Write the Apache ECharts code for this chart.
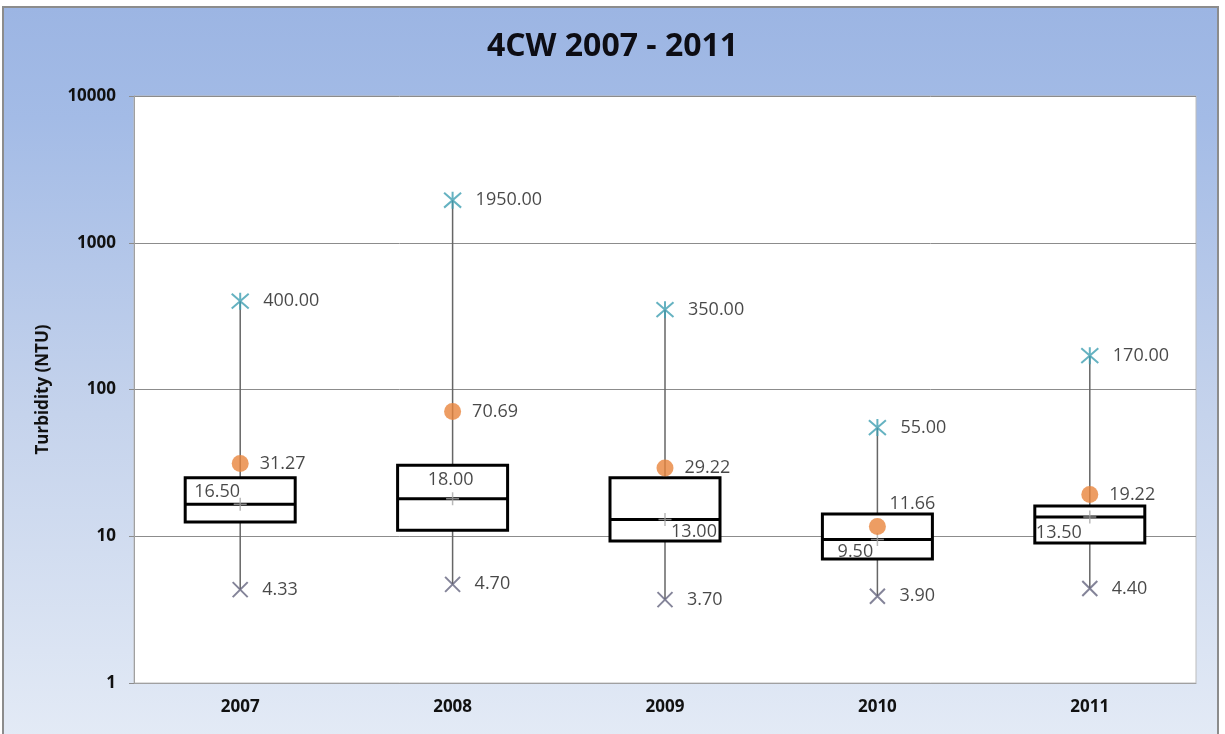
<!DOCTYPE html>
<html>
<head>
<meta charset="UTF-8">
<title>4CW 2007 - 2011</title>
<script src="https://cdn.jsdelivr.net/npm/echarts@6/dist/echarts.min.js"></script>
<style>
  html, body { margin: 0; padding: 0; background: #fff; }
  #main { width: 1225px; height: 734px; }
</style>
</head>
<body>
<div id="main"></div>
<script>
// values
var years = ['2007', '2008', '2009', '2010', '2011'];
var maxV = [400, 1950, 350, 55, 170];
var minV = [4.33, 4.70, 3.70, 3.90, 4.40];
var meanV = [31.27, 70.69, 29.22, 11.66, 19.22];
var medianV = [16.50, 18.00, 13.00, 9.50, 13.50];
var q1V = [12.5, 11.0, 9.3, 7.0, 9.0];
var q3V = [25, 30.5, 25, 14.2, 16.1];

// label placement (text centre relative to marker)
var medianLabelOffset = [[-23, -12], [-2, -19], [29, 12], [-22, 12], [-31, 16]];
var meanLabelOffset = [null, null, null, [35, -23], null];

var labelFont = { fontFamily: 'Open Sans', fontSize: 18, color: '#1a1a1a' };

var chart = echarts.init(document.getElementById('main'), null, { renderer: 'canvas' });

function fmt(p) { return p.value[1].toFixed(2); }

var option = {
  animation: false,
  backgroundColor: '#fff',
  graphic: [{
    type: 'rect',
    z: -10,
    silent: true,
    shape: { x: 3, y: 7, width: 1215, height: 740 },
    style: {
      fill: new echarts.graphic.LinearGradient(0, 0, 0, 1, [
        { offset: 0, color: '#9cb5e3' },
        { offset: 0.15, color: '#a3bbe6' },
        { offset: 0.55, color: '#c5d3ec' },
        { offset: 1, color: '#e4ebf6' }
      ]),
      stroke: '#8c8c8c',
      lineWidth: 2
    }
  }],
  title: {
    text: '4CW 2007 - 2011',
    left: 'center',
    top: 26,
    textStyle: { fontFamily: 'Open Sans', fontWeight: 'bold', fontSize: 32, color: '#0d0d14' }
  },
  grid: {
    left: 134, right: 29, top: 96, bottom: 51,
    show: true, backgroundColor: '#fff', borderColor: '#bdbdbd', borderWidth: 1
  },
  xAxis: {
    type: 'category',
    data: years,
    axisTick: { show: false },
    axisLine: { lineStyle: { color: '#a0a0a0' } },
    axisLabel: { fontFamily: 'Open Sans', fontWeight: 'bold', fontSize: 17, color: '#111', margin: 16 }
  },
  yAxis: {
    type: 'log',
    logBase: 10,
    min: 1,
    max: 10000,
    name: 'Turbidity (NTU)',
    nameLocation: 'middle',
    nameGap: 82,
    nameTextStyle: { fontFamily: 'Open Sans', fontWeight: 'bold', fontSize: 17, color: '#111' },
    axisLine: { show: true, lineStyle: { color: '#a0a0a0' } },
    axisTick: { show: true, length: 5, lineStyle: { color: '#8c8c8c' } },
    axisLabel: {
      fontFamily: 'Open Sans', fontWeight: 'bold', fontSize: 17, color: '#111', margin: 18,
      formatter: function (v) { return String(Math.round(v)); }
    },
    splitLine: { lineStyle: { color: '#8c8c8c', width: 1 } }
  },
  series: [
    {
      name: 'range',
      type: 'custom',
      z: 1,
      encode: { x: 0, y: [1, 2] },
      data: years.map(function (y, i) { return [i, minV[i], maxV[i]]; }),
      renderItem: function (params, api) {
        var lo = api.coord([api.value(0), api.value(1)]);
        var hi = api.coord([api.value(0), api.value(2)]);
        return {
          type: 'line',
          shape: { x1: lo[0], y1: lo[1], x2: hi[0], y2: hi[1] },
          style: { stroke: '#666', lineWidth: 1.5 }
        };
      }
    },
    {
      name: 'box',
      type: 'boxplot',
      z: 2,
      boxWidth: [110, 110],
      itemStyle: { color: '#fff', borderColor: '#000', borderWidth: 3 },
      data: years.map(function (y, i) { return [q1V[i], q1V[i], medianV[i], q3V[i], q3V[i]]; })
    },
    {
      name: 'median',
      type: 'scatter',
      z: 3,
      symbol: 'path://M-6,0L6,0M0,-6L0,6',
      symbolSize: 13,
      itemStyle: { color: 'none', borderColor: '#a8a8a8', borderWidth: 1.5 },
      label: Object.assign({ show: true, position: 'inside', formatter: fmt }, labelFont),
      data: medianV.map(function (v, i) {
        return { value: [i, v], label: { offset: medianLabelOffset[i] } };
      })
    },
    {
      name: 'mean',
      type: 'scatter',
      z: 4,
      symbol: 'circle',
      symbolSize: 17,
      itemStyle: { color: '#e8843c' },
      label: Object.assign({ show: true, position: 'right', distance: 11, formatter: fmt }, labelFont),
      data: meanV.map(function (v, i) {
        var d = { value: [i, v] };
        if (meanLabelOffset[i]) d.label = { position: 'inside', offset: meanLabelOffset[i] };
        return d;
      })
    },
    {
      name: 'max',
      type: 'scatter',
      z: 4,
      symbol: 'path://M0,-8L0,8M-7,-7L7,7M-7,7L7,-7',
      symbolSize: 17,
      itemStyle: { color: 'none', borderColor: '#3f9fb2', borderWidth: 2 },
      label: Object.assign({ show: true, position: 'right', distance: 12, formatter: fmt }, labelFont),
      data: maxV.map(function (v, i) { return [i, v]; })
    },
    {
      name: 'min',
      type: 'scatter',
      z: 4,
      symbol: 'path://M-7,-7L7,7M-7,7L7,-7',
      symbolSize: 15,
      itemStyle: { color: 'none', borderColor: '#65657f', borderWidth: 2 },
      label: Object.assign({ show: true, position: 'right', distance: 12, formatter: fmt }, labelFont),
      data: minV.map(function (v, i) { return [i, v]; })
    }
  ]
};

chart.setOption(option);
</script>
</body>
</html>
